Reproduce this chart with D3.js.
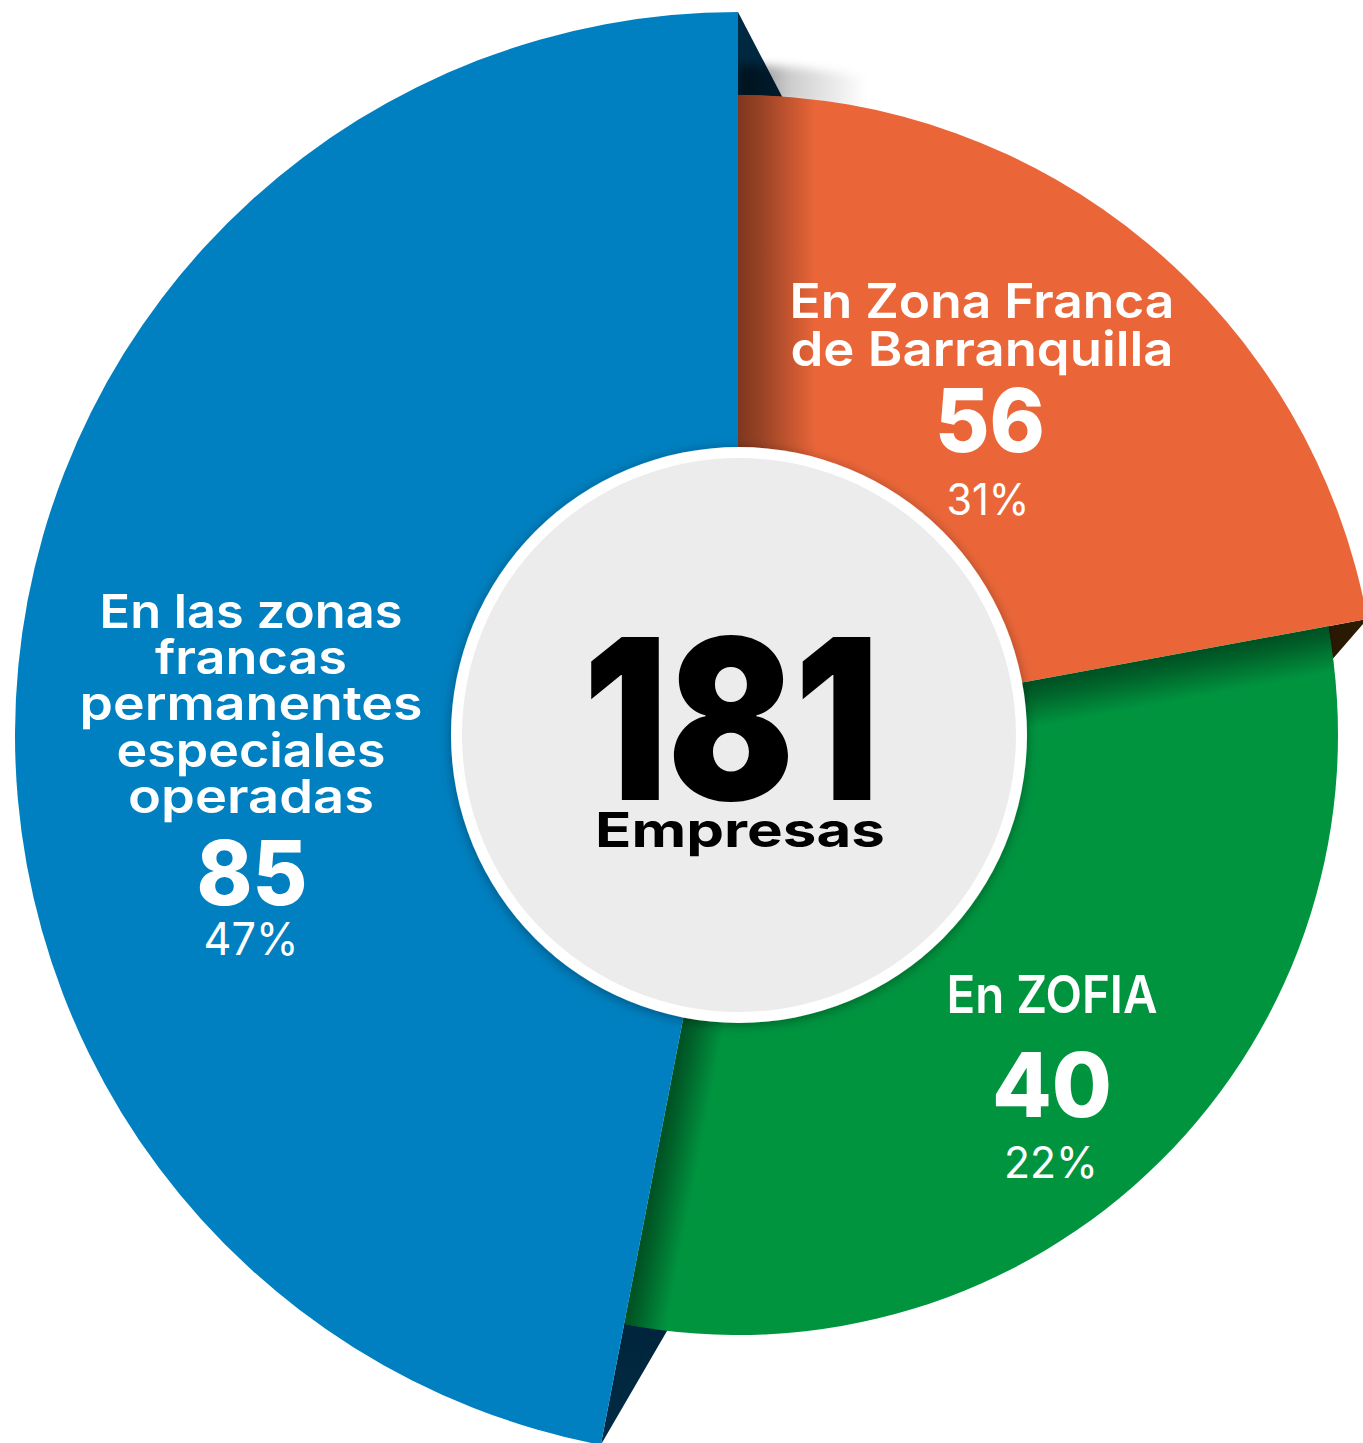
<!DOCTYPE html>
<html lang="es">
<head>
<meta charset="utf-8">
<title>181 Empresas</title>
<script src="https://cdn.jsdelivr.net/npm/d3@7"></script>
<style>
  body { margin: 0; background: #fff; }
  svg { display: block; }
  text { font-family: Inter, "Noto Sans", sans-serif; }
</style>
</head>
<body>
<div id="container"></div>
<script>
// Slices, clockwise from the top
const sliceNames = ["En Zona Franca de Barranquilla", "En ZOFIA", "En las zonas francas permanentes especiales operadas"];
const labelLines = [["En Zona Franca", "de Barranquilla"], ["En ZOFIA"], ["En las zonas", "francas", "permanentes", "especiales", "operadas"]];
const companies = [56, 40, 85];
const shareLabels = ["31%", "22%", "47%"];
// angular size of each slice as it is drawn in the original graphic
const sliceSizes = [40, 56, 85];
const totalCompanies = 181;
const totalLabel = "Empresas";

// Size of the svg and the pie centre
const width = 1363;
const height = 1443;
const cx = 738, cy = 735;

// Each slice has its own radius (the bigger one sits "on top")
const radii = [640, 600, 723];
const colors = ["#ea6639", "#00943f", "#0080c0"];
const sideColors = ["#2e1c04", "#003a1c", "#002b45"];
// per edge (edge k = end of slice k): shadow width and spread of the side face, degrees
const shadowWidth = [46, 42, 78];
const sideSpread = [3.2, 4.2, 4.0];
const castOnBackground = [false, false, true];

// Label placement (centre x, baselines, font sizes, widths)
const labelLayout = [
    { x: 982, lines: [318, 366], size: 48, widths: [385, 383],
      numX: 990, numY: 452, numSize: 88, numW: 110,
      pctX: 988, pctY: 515, pctSize: 44, pctW: 83 },
    { x: 1052, lines: [1013], size: 52, widths: [211],
      numX: 1052, numY: 1117, numSize: 89, numW: 120,
      pctX: 1051, pctY: 1178, pctSize: 44, pctW: 94 },
    { x: 251, lines: [628, 674, 720, 767, 813], size: 47, widths: [303, 192, 343, 269, 246],
      numX: 252, numY: 905, numSize: 89, numW: 111,
      pctX: 251, pctY: 955, pctSize: 45, pctW: 95 }
];

const svg = d3.select("#container")
    .append("svg")
    .attr("width", width)
    .attr("height", height);

const defs = svg.append("defs");
const g = svg.append("g").attr("transform", `translate(${cx},${cy})`);

const deg = Math.PI / 180;
const polar = (a, r) => [Math.sin(a) * r, -Math.cos(a) * r];

const pie = d3.pie().sort(null).value(d => d);
const arcs = pie(sliceSizes);
arcs.forEach((d, i) => d.r = radii[i]);
const arc = d3.arc().innerRadius(0).outerRadius(d => d.r);

// Edges between neighbour slices: the bigger slice shades the smaller one
const edges = arcs.map((d, i) => {
    const j = (i + 1) % arcs.length;
    const big = radii[i] > radii[j] ? i : j;
    const small = big === i ? j : i;
    return { k: i, angle: d.endAngle, big, small, dir: big === i ? 1 : -1 };
});

// Side faces (dark triangles) of the bigger slices
edges.forEach(e => {
    const p1 = polar(e.angle, radii[e.big]);
    const p2 = polar(e.angle, radii[e.small] - 1);
    const p3 = polar(e.angle + e.dir * sideSpread[e.k] * deg, radii[e.small] - 1);
    const gid = "side" + e.k;
    const grad = defs.append("linearGradient")
        .attr("id", gid)
        .attr("gradientUnits", "userSpaceOnUse")
        .attr("x1", p1[0]).attr("y1", p1[1])
        .attr("x2", p2[0]).attr("y2", p2[1]);
    grad.append("stop").attr("offset", 0).attr("stop-color", sideColors[e.big]);
    grad.append("stop").attr("offset", 1).attr("stop-color", d3.color(sideColors[e.big]).darker(0.4));
    g.append("path")
        .attr("d", d3.line()([p1, p2, p3]))
        .attr("fill", `url(#${gid})`);
});

// Soft shadow cast onto the white background at the top
const blur = defs.append("filter").attr("id", "blur").attr("x", "-30%").attr("y", "-50%")
    .attr("width", "160%").attr("height", "200%");
blur.append("feGaussianBlur").attr("stdDeviation", 5);

edges.filter(e => castOnBackground[e.k]).forEach(e => {
    const gid = "cast" + e.k;
    const grad = defs.append("linearGradient").attr("id", gid)
        .attr("x1", e.dir > 0 ? 0 : 1).attr("x2", e.dir > 0 ? 1 : 0);
    grad.append("stop").attr("offset", 0).attr("stop-color", "#000").attr("stop-opacity", 0.55);
    grad.append("stop").attr("offset", 0.4).attr("stop-color", "#000").attr("stop-opacity", 0.2);
    grad.append("stop").attr("offset", 1).attr("stop-color", "#000").attr("stop-opacity", 0);
    const band = d3.arc()
        .innerRadius(radii[e.small] - 6)
        .outerRadius(radii[e.small] + 30)
        .startAngle(e.angle)
        .endAngle(e.angle + e.dir * 11 * deg);
    g.append("path")
        .attr("d", band())
        .attr("fill", `url(#${gid})`)
        .attr("filter", "url(#blur)");
});

// Slices
g.append("g")
    .selectAll("path")
    .data(arcs)
    .enter()
    .append("path")
    .attr("d", arc)
    .attr("fill", (d, i) => colors[i]);

// Shading on the smaller slice along each edge
edges.forEach(e => {
    const clipId = "clip" + e.k;
    defs.append("clipPath").attr("id", clipId)
        .append("path").attr("d", arc(arcs[e.small]));
    const gradId = "shade" + e.k;
    const dark = d3.color(colors[e.small]).darker(2.4);
    const grad = defs.append("linearGradient").attr("id", gradId)
        .attr("x1", e.dir > 0 ? 0 : 1).attr("x2", e.dir > 0 ? 1 : 0)
        .attr("y1", 0).attr("y2", 0);
    grad.append("stop").attr("offset", 0).attr("stop-color", dark).attr("stop-opacity", 0.8);
    grad.append("stop").attr("offset", 0.3).attr("stop-color", dark).attr("stop-opacity", 0.6);
    grad.append("stop").attr("offset", 1).attr("stop-color", dark).attr("stop-opacity", 0);
    g.append("g")
        .attr("clip-path", `url(#${clipId})`)
        .append("rect")
        .attr("transform", `rotate(${e.angle / deg})`)
        .attr("x", e.dir > 0 ? 0 : -shadowWidth[e.k])
        .attr("y", -radii[e.small] - 2)
        .attr("width", shadowWidth[e.k])
        .attr("height", radii[e.small] + 2)
        .attr("fill", `url(#${gradId})`);
});

// Centre disc
const drop = defs.append("filter").attr("id", "drop")
    .attr("x", "-20%").attr("y", "-20%").attr("width", "140%").attr("height", "140%");
drop.append("feDropShadow")
    .attr("dx", 0).attr("dy", 2)
    .attr("stdDeviation", 6)
    .attr("flood-color", "#000")
    .attr("flood-opacity", 0.35);

g.append("circle").attr("cx", 1).attr("r", 288).attr("fill", "#fff").attr("filter", "url(#drop)");
g.append("circle").attr("cx", 1).attr("r", 277).attr("fill", "#ececec");

// Centred line of text, stretched horizontally to the width it has in the original
function addText(parent, str, x, y, size, w, weight, fill) {
    const t = parent.append("text")
        .attr("text-anchor", "middle")
        .attr("font-size", size)
        .attr("font-weight", weight)
        .attr("fill", fill)
        .text(str);
    const len = t.node().getComputedTextLength();
    const sx = len > 0 ? w / len : 1;
    t.attr("transform", `translate(${x},${y}) scale(${sx},1)`);
}

// Slice labels
const labels = svg.append("g");
labelLayout.forEach((l, i) => {
    labelLines[i].forEach((line, j) => {
        addText(labels, line, l.x, l.lines[j], l.size, l.widths[j], 600, "#fff");
    });
    addText(labels, companies[i], l.numX, l.numY, l.numSize, l.numW, 800, "#fff");
    addText(labels, shareLabels[i], l.pctX, l.pctY, l.pctSize, l.pctW, 400, "#fff");
});

// Total in the middle
addText(labels, totalCompanies, 731, 800, 224, 296, 900, "#000");
addText(labels, totalLabel, 740, 847, 48, 290, 700, "#000");
</script>
</body>
</html>
